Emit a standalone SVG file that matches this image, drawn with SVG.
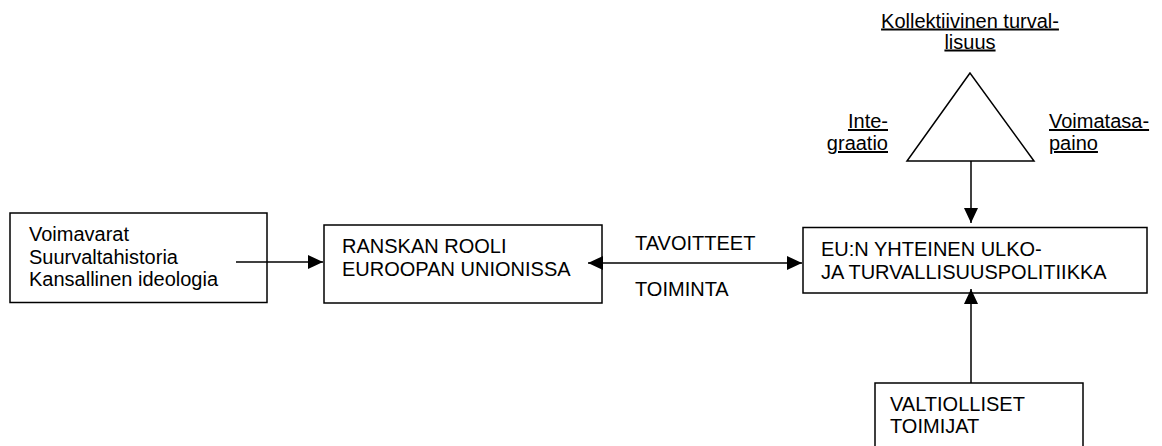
<svg xmlns="http://www.w3.org/2000/svg" width="1162" height="446" viewBox="0 0 1162 446">
<style>
text{font-family:"Liberation Sans",Arial,sans-serif;font-size:20px;fill:#000}
.box{fill:#fff;stroke:#000;stroke-width:1.5}
.edge{stroke:#000;stroke-width:1.5;fill:none}
.u{text-decoration:underline}
</style>
<defs>
<marker id="ah" markerUnits="userSpaceOnUse" markerWidth="15" markerHeight="14" refX="15" refY="7" orient="auto-start-reverse">
<path d="M0,0 L15,7 L0,14 z" fill="#000"/>
</marker>
</defs>
<rect width="1162" height="446" fill="#fff"/>
<g id="n-factors">
<rect class="box" x="10" y="213" width="257" height="89.5"/>
<text x="29" y="241">Voimavarat</text>
<text x="29" y="263.5">Suurvaltahistoria</text>
<text x="29" y="286">Kansallinen ideologia</text>
</g>
<g id="n-ranska">
<rect class="box" x="324" y="225" width="278" height="78"/>
<text x="342" y="253">RANSKAN ROOLI</text>
<text x="342" y="276">EUROOPAN UNIONISSA</text>
</g>
<g id="n-eu">
<rect class="box" x="803" y="227.5" width="344" height="65.5"/>
<text x="821" y="255.5">EU:N YHTEINEN ULKO-</text>
<text x="821" y="278.5">JA TURVALLISUUSPOLITIIKKA</text>
</g>
<g id="n-valtiolliset">
<rect class="box" x="875" y="383" width="208" height="80"/>
<text x="890" y="411">VALTIOLLISET</text>
<text x="890" y="433">TOIMIJAT</text>
</g>
<g id="n-triangle">
<polygon class="box" points="970,73 907,161 1034,161"/>
<text class="u" x="970" y="27.5" text-anchor="middle">Kollektiivinen turval-</text>
<text class="u" x="970" y="48.5" text-anchor="middle">lisuus</text>
<text class="u" x="888" y="128" text-anchor="end">Inte-</text>
<text class="u" x="888" y="150" text-anchor="end">graatio</text>
<text class="u" x="1049" y="128">Voimatasa-</text>
<text class="u" x="1049" y="150">paino</text>
</g>
<g id="connectors">
<line class="edge" x1="236" y1="262" x2="323" y2="262" marker-end="url(#ah)"/>
<line class="edge" x1="588" y1="263" x2="802" y2="263" marker-start="url(#ah)" marker-end="url(#ah)"/>
<text x="635" y="250">TAVOITTEET</text>
<text x="635" y="296">TOIMINTA</text>
<line class="edge" x1="971" y1="161" x2="971" y2="223" marker-end="url(#ah)"/>
<line class="edge" x1="971" y1="383" x2="971" y2="289" marker-end="url(#ah)"/>
</g>
</svg>
